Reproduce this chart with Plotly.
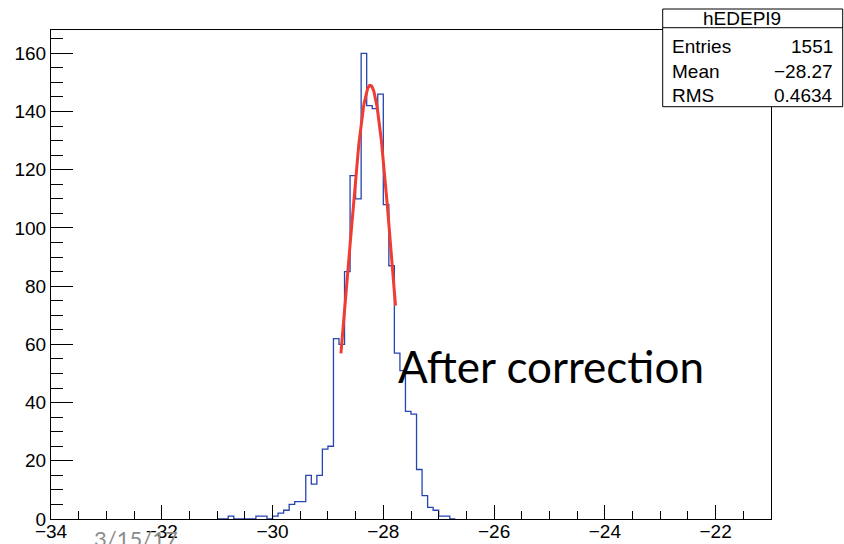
import math
import plotly.graph_objects as go

# Histogram hEDEPI9: 0.1-wide bins starting at -31.0 (empty outside this span)
bin_low = -31.0
bin_width = 0.1
counts = [0, 0, 1, 0, 0, 0, 0, 1, 1, 0,
          1, 2, 3, 5, 6, 6, 15, 12, 15, 24,
          25, 62, 60, 85, 118, 110, 160, 142, 141, 146,
          108, 87, 57, 51, 37, 36, 17, 8, 4, 3,
          1, 1, 0]

# Gaussian fit drawn over the fitted range
fit_const = 149.0
fit_mean = -28.235
fit_sigma = 0.382
fit_range = [-28.765, -27.78]

# Statistics box
stats_title = "hEDEPI9"
stats_names = ["Entries", "Mean", "RMS"]
stats_values = ["1551", "\u221228.27", "0.4634"]

x_ticks = [-34, -32, -30, -28, -26, -24, -22]
x_tick_text = ["\u221234", "\u221232", "\u221230", "\u221228", "\u221226", "\u221224", "\u221222"]
y_ticks = [0, 20, 40, 60, 80, 100, 120, 140, 160]

# step outline of the histogram
edges = [bin_low + i * bin_width for i in range(len(counts) + 1)]
step_x = [edges[0]]
step_y = [0]
for i, c in enumerate(counts):
    step_x += [edges[i], edges[i + 1]]
    step_y += [c, c]
step_x.append(edges[-1])
step_y.append(0)

# fit curve sampled like TF1 (100 points)
npx = 100
fx = [fit_range[0] + (fit_range[1] - fit_range[0]) * i / (npx - 1) for i in range(npx)]
fy = [fit_const * math.exp(-0.5 * ((v - fit_mean) / fit_sigma) ** 2) for v in fx]

fig = go.Figure()
fig.add_trace(go.Scatter(x=step_x, y=step_y, mode="lines",
                         line=dict(color="#2545b0", width=1.3), hoverinfo="skip"))
fig.add_trace(go.Scatter(x=fx, y=fy, mode="lines",
                         line=dict(color="#f03c32", width=3), hoverinfo="skip"))

# layout in pixels
W, H = 844, 544
ML, MR, MT, MB = 51, 73, 30, 25
PW, PH = W - ML - MR, H - MT - MB


def px(xpix):
    return (xpix - ML) / PW


def py(ypix):
    return (H - MB - ypix) / PH


font = "Liberation Sans, Arial, Helvetica, sans-serif"
y_max = 1.05 * max(counts)

fig.update_layout(
    width=W, height=H,
    margin=dict(l=ML, r=MR, t=MT, b=MB, pad=0),
    paper_bgcolor="white", plot_bgcolor="white",
    showlegend=False,
    font=dict(family=font, size=19, color="black"),
)
fig.update_xaxes(
    range=[-34, -21], showgrid=False, zeroline=False, automargin=False,
    showline=True, linecolor="black", linewidth=1, mirror=True,
    tickmode="array", tickvals=x_ticks, ticktext=x_tick_text,
    ticks="inside", ticklen=14, tickcolor="black", tickwidth=1,
    ticklabelstandoff=-5,
    minor=dict(dtick=0.5, tick0=-34, ticks="inside", ticklen=8,
               tickcolor="black", tickwidth=1, showgrid=False),
    tickfont=dict(family=font, size=19, color="black"),
)
fig.update_yaxes(
    range=[0, y_max], showgrid=False, zeroline=False, automargin=False,
    showline=True, linecolor="black", linewidth=1, mirror=True,
    tickmode="array", tickvals=y_ticks,
    ticks="inside", ticklen=22, tickcolor="black", tickwidth=1,
    minor=dict(dtick=5, tick0=0, ticks="inside", ticklen=12,
               tickcolor="black", tickwidth=1, showgrid=False),
    tickfont=dict(family=font, size=19, color="black"),
)

# statistics box
bx0, bx1, by0, by1 = 662.7, 842.7, 9, 106.7
fig.add_shape(type="rect", xref="paper", yref="paper",
              x0=px(bx0), x1=px(bx1), y0=py(by1), y1=py(by0),
              fillcolor="white", line=dict(color="black", width=1), layer="above")
fig.add_shape(type="line", xref="paper", yref="paper",
              x0=px(bx0), x1=px(bx1), y0=py(27.7), y1=py(27.7),
              line=dict(color="black", width=1), layer="above")
fig.add_annotation(xref="paper", yref="paper", x=px(742), y=py(18.5),
                   text=stats_title, showarrow=False, xanchor="center", yanchor="middle",
                   font=dict(family=font, size=19, color="black"))
for name, val, yc in zip(stats_names, stats_values, [46, 71, 95]):
    fig.add_annotation(xref="paper", yref="paper", x=px(670), y=py(yc),
                       text=name, showarrow=False, xanchor="left", yanchor="middle",
                       font=dict(family=font, size=19, color="black"))
    fig.add_annotation(xref="paper", yref="paper", x=px(835), y=py(yc),
                       text=val, showarrow=False, xanchor="right", yanchor="middle",
                       font=dict(family=font, size=19, color="black"))

# slide caption over the plot
fig.add_annotation(xref="paper", yref="paper", x=px(396), y=py(366),
                   text="After correction", showarrow=False,
                   xanchor="left", yanchor="middle",
                   font=dict(family="Lato, Open Sans, sans-serif", size=44, color="black"))

# slide footer date
fig.add_annotation(xref="paper", yref="paper", x=px(92), y=py(523),
                   text="3/15/17", showarrow=False,
                   xanchor="left", yanchor="top",
                   font=dict(family="Lato, Open Sans, sans-serif", size=22, color="#8c8c8c"))

fig.write_html("out.html")
